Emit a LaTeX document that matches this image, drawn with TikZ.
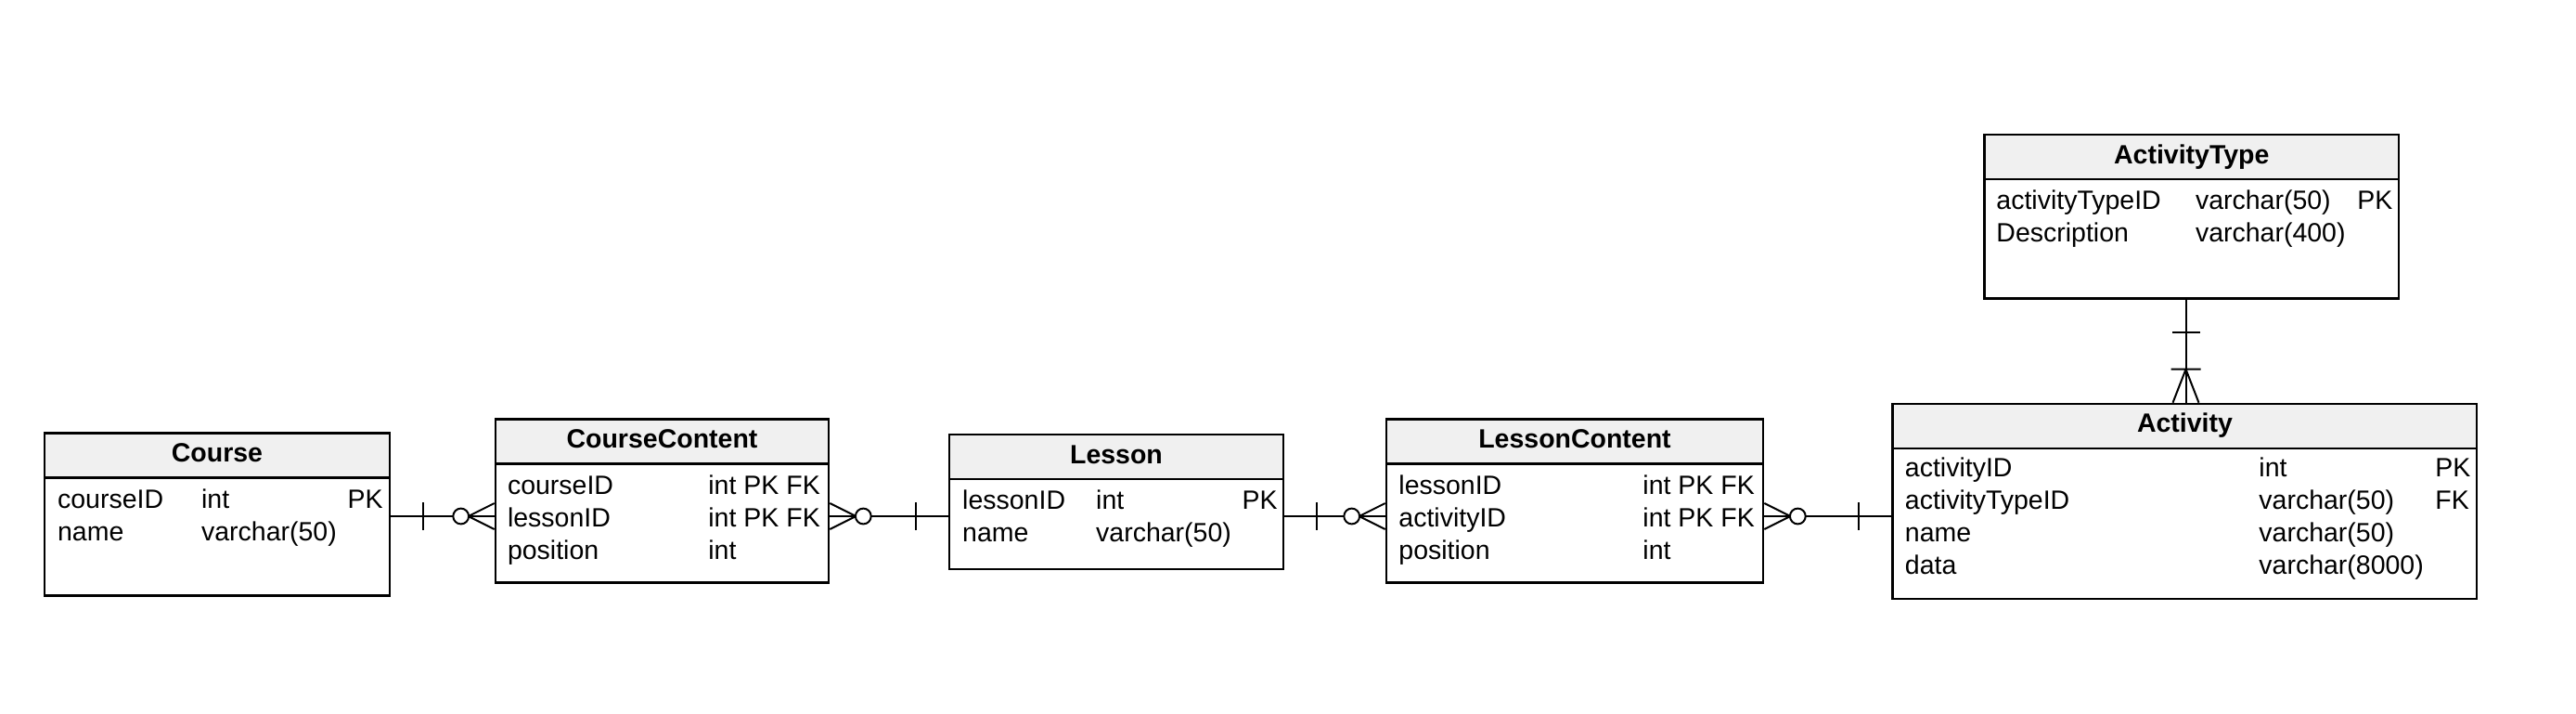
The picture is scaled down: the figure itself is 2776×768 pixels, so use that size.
\documentclass[tikz,border=0pt]{standalone}
\usepackage{fontspec}
\setmainfont{Liberation Sans}
\usetikzlibrary{fit,calc}
\definecolor{hdrgray}{RGB}{240,240,240}
\tikzset{
  tbl/.style={draw, line width=1.3pt, inner sep=0pt, rectangle},
  hdrbox/.style={draw, fill=hdrgray, line width=1.3pt, inner sep=0pt, rectangle},
  ttl/.style={font=\fontsize{14.25}{17}\selectfont\bfseries, inner sep=0pt, anchor=base},
  fld/.style={font=\fontsize{14.25}{17}\selectfont, inner sep=0pt, anchor=base west},
  fldr/.style={font=\fontsize{14.25}{17}\selectfont, inner sep=0pt, anchor=base east},
  conn/.style={line width=1pt, line cap=butt},
  onemark/.pic={\draw[conn] (35,-15) -- (35,15);},
  zmmark/.pic={\draw[conn] (28,0) -- (0,14) (28,0) -- (0,-14); \draw[conn, fill=white] (36,0) circle (4.2pt);},
  ommark/.pic={\draw[conn] (36,0) -- (0,14) (36,0) -- (0,-14) (36,-16) -- (36,16);},
}
\begin{document}
\begin{tikzpicture}[x=0.5pt,y=-0.5pt]
\useasboundingbox (0,0) rectangle (2776,768);
\coordinate (yl) at (0,556);
\coordinate (xl) at (2355.5,0);

% Course
\node[tbl, fit={(48,466.7) (420,641.7)}] (course) {};
\node[hdrbox, fit={(48,466.7) (420,514.7)}] (courseH) {};
\node[ttl] (courseT) at (234,497.5) {Course};
\node[fld] (course1a) at (61.7,547) {courseID};
\node[fld] (course1b) at (216.7,547) {int};
\node[fldr] (course1c) at (413,547) {PK};
\node[fld] (course2a) at (61.7,582) {name};
\node[fld] (course2b) at (216.7,582) {varchar(50)};

% CourseContent
\node[tbl, fit={(534,451.5) (893,627.5)}] (cc) {};
\node[hdrbox, fit={(534,451.5) (893,499.5)}] (ccH) {};
\node[ttl] (ccT) at (713.5,482.5) {CourseContent};
\node[fld] (cc1a) at (546.6,532) {courseID};
\node[fld] (cc1b) at (763,532) {int PK FK};
\node[fld] (cc2a) at (546.6,567) {lessonID};
\node[fld] (cc2b) at (763,567) {int PK FK};
\node[fld] (cc3a) at (546.6,602) {position};
\node[fld] (cc3b) at (763,602) {int};

% Lesson
\node[tbl, fit={(1023,468) (1383,613)}] (lesson) {};
\node[hdrbox, fit={(1023,468) (1383,516)}] (lessonH) {};
\node[ttl] (lessonT) at (1203,499) {Lesson};
\node[fld] (lesson1a) at (1036.8,548) {lessonID};
\node[fld] (lesson1b) at (1180.8,548) {int};
\node[fldr] (lesson1c) at (1377,548) {PK};
\node[fld] (lesson2a) at (1036.8,583) {name};
\node[fld] (lesson2b) at (1180.8,583) {varchar(50)};

% LessonContent
\node[tbl, fit={(1494,451.5) (1900,627.5)}] (lc) {};
\node[hdrbox, fit={(1494,451.5) (1900,499.5)}] (lcH) {};
\node[ttl] (lcT) at (1697,482.5) {LessonContent};
\node[fld] (lc1a) at (1507,532) {lessonID};
\node[fld] (lc1b) at (1770,532) {int PK FK};
\node[fld] (lc2a) at (1507,567) {activityID};
\node[fld] (lc2b) at (1770,567) {int PK FK};
\node[fld] (lc3a) at (1507,602) {position};
\node[fld] (lc3b) at (1770,602) {int};

% Activity
\node[tbl, fit={(2039.5,435) (2669,645)}] (act) {};
\node[hdrbox, fit={(2039.5,435) (2669,483)}] (actH) {};
\node[ttl] (actT) at (2354.5,465.5) {Activity};
\node[fld] (act1a) at (2052.5,513.5) {activityID};
\node[fld] (act1b) at (2434,513.5) {int};
\node[fld] (act1c) at (2624,513.5) {PK};
\node[fld] (act2a) at (2052.5,548.5) {activityTypeID};
\node[fld] (act2b) at (2434,548.5) {varchar(50)};
\node[fld] (act2c) at (2624,548.5) {FK};
\node[fld] (act3a) at (2052.5,583.5) {name};
\node[fld] (act3b) at (2434,583.5) {varchar(50)};
\node[fld] (act4a) at (2052.5,618.5) {data};
\node[fld] (act4b) at (2434,618.5) {varchar(8000)};

% ActivityType
\node[tbl, fit={(2138.5,145) (2585,321.5)}] (atype) {};
\node[hdrbox, fit={(2138.5,145) (2585,193)}] (atypeH) {};
\node[ttl] (atypeT) at (2361.75,176) {ActivityType};
\node[fld] (atype1a) at (2151,225) {activityTypeID};
\node[fld] (atype1b) at (2365.6,225) {varchar(50)};
\node[fld] (atype1c) at (2540,225) {PK};
\node[fld] (atype2a) at (2151,260) {Description};
\node[fld] (atype2b) at (2365.6,260) {varchar(400)};

% Connectors
\draw[conn] (course.east |- yl) -- (cc.west |- yl);
\path (course.east |- yl) pic{onemark};
\path (cc.west |- yl) pic[rotate=180]{zmmark};

\draw[conn] (cc.east |- yl) -- (lesson.west |- yl);
\path (cc.east |- yl) pic{zmmark};
\path (lesson.west |- yl) pic[rotate=180]{onemark};

\draw[conn] (lesson.east |- yl) -- (lc.west |- yl);
\path (lesson.east |- yl) pic{onemark};
\path (lc.west |- yl) pic[rotate=180]{zmmark};

\draw[conn] (lc.east |- yl) -- (act.west |- yl);
\path (lc.east |- yl) pic{zmmark};
\path (act.west |- yl) pic[rotate=180]{onemark};

\draw[conn] (atype.south -| xl) -- (act.north -| xl);
\path (atype.south -| xl) pic[rotate=-90]{onemark};
\path (act.north -| xl) pic[rotate=90]{ommark};
\end{tikzpicture}
\end{document}
